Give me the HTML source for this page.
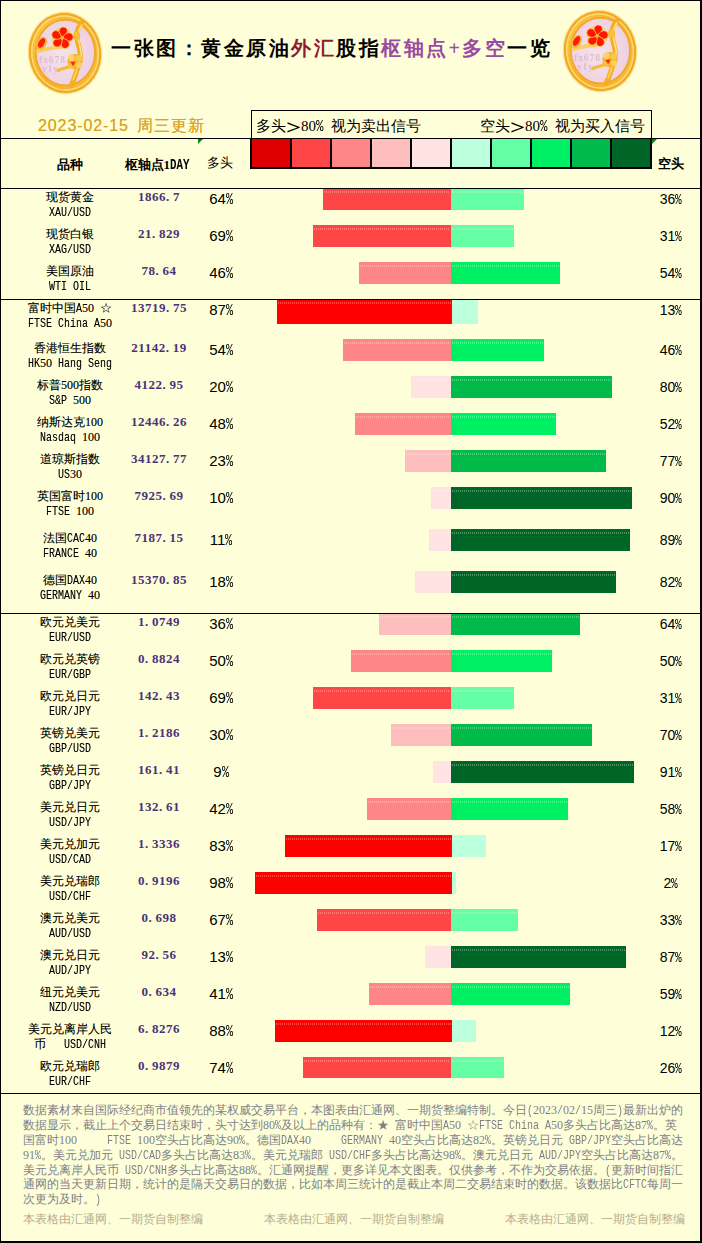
<!DOCTYPE html>
<html lang="zh"><head><meta charset="utf-8"><title>一张图：黄金原油外汇股指枢轴点+多空一览</title>
<style>
html,body{margin:0;padding:0}
body{width:702px;height:1243px;position:relative;overflow:hidden;background:#FEFFD8;font-family:"Liberation Sans",sans-serif;color:#000}
div,span{box-sizing:border-box}
.a{position:absolute}
.hl{position:absolute;left:0;width:702px;height:1px;background:#000;z-index:3}
.t{position:absolute;white-space:pre;line-height:1}
.c{text-align:center}
/* half-width latin boxes */
.l{display:inline-block;white-space:pre;text-align:left;vertical-align:baseline;overflow:visible}
.l i{display:inline-block;font-style:normal;font-family:"Liberation Mono",monospace;font-size:13px;transform:scaleX(.769);transform-origin:0 50%}
.l15 i{font-size:16.25px}
.gt{display:inline-block;transform:scale(1.7,1.55);transform-origin:50% 55%}
.l13 i{font-size:14px}
.nm{text-shadow:0 0 0 rgba(0,0,0,.35);font-size:12px;height:12px;line-height:12px;left:0;width:140px}
.d{font-family:"Liberation Serif",serif}
.pv{font-family:"Liberation Serif",serif;font-weight:bold;font-size:13px;letter-spacing:.5px;color:#4A3278;left:109px;width:100px;height:13px;line-height:13px}
.dot{display:inline-block;width:7px;text-align:left;letter-spacing:0}
.lp{font-size:15px;left:171px;width:100px;height:15px;line-height:15px}
.rp{font-size:14px;left:621px;width:100px;height:14px;line-height:14px}
.pc{display:inline-block;width:7px;text-align:left;white-space:pre}
.pc i{display:inline-block;font-style:normal;font-family:"Liberation Mono",monospace;font-size:16px;transform:scaleX(.74);transform-origin:0 50%}
.rp .pc{width:7px}
.rp .pc i{font-size:15px}
.bar{position:absolute;overflow:hidden}
.bar b{position:absolute;left:1px;right:1px;top:3px;height:2px;background:repeating-linear-gradient(90deg,rgba(255,255,240,.28) 0 1px,transparent 1px 2px)}
.ft{position:absolute;left:23px;width:660px;height:12px;line-height:12px;font-size:12px;color:#7F7F88;white-space:pre;text-align:justify;text-align-last:justify}
.ft .l i{font-size:13px}
.fl{text-align:left;text-align-last:left}
.tan{color:#B8AC90}
</style></head><body>

<div class="a" style="left:0;top:0;width:702px;height:1px;background:#000"></div>
<div class="a" style="left:0;top:0;width:1px;height:1243px;background:#000"></div>
<div class="a" style="left:700px;top:0;width:2px;height:1243px;background:#000"></div>
<div class="a" style="left:0;top:1241px;width:702px;height:2px;background:#000"></div>
<div class="a" style="left:21.5px;top:6.5px;width:86px;height:92px"><svg width="86" height="92" viewBox="-43 -46 86 92">
<defs>
<radialGradient id="gp" cx="45%" cy="50%" r="60%"><stop offset="0" stop-color="#F6E2EA"/><stop offset="1" stop-color="#EECFE0"/></radialGradient>
<linearGradient id="gr" x1="0" y1="0" x2="1" y2="1"><stop offset="0" stop-color="#FDCB4C"/><stop offset=".5" stop-color="#F6AE2A"/><stop offset="1" stop-color="#FBC040"/></linearGradient>
<filter id="bl" x="-10%" y="-10%" width="120%" height="120%"><feGaussianBlur stdDeviation=".6"/></filter>
<path id="pt" d="M0 -.6 C-4.6 -2.8 -5.6 -9.2 -1.2 -10.9 C3.2 -12.1 5.6 -8 3.5 -4.4 C2.5 -2.7 1.2 -1.4 0 -.6Z"/>
</defs>
<g id="logo" filter="url(#bl)">
<ellipse cx="0" cy="0" rx="37.2" ry="41.2" fill="#FCDD84" transform="rotate(-8)"/><ellipse cx="0" cy="0" rx="36" ry="40" fill="url(#gr)" transform="rotate(-8)"/>
<ellipse cx="0" cy="0" rx="33.4" ry="37.2" fill="none" stroke="#FDDA70" stroke-width="1.8" transform="rotate(-8)"/>
<ellipse cx="0" cy="0" rx="35" ry="39" fill="none" stroke="#F2A626" stroke-width="1.8" transform="rotate(-8)"/>
<ellipse cx=".4" cy="-.4" rx="29.6" ry="32.8" fill="url(#gp)" stroke="#F2A828" stroke-width="1.8"/>
<!-- watermark -->
<g font-family="Liberation Serif, serif" font-weight="bold" fill="#DDBDD0" font-size="9.5">
<text x="-26" y="9.5" textLength="26">fx678</text><text x="-23" y="19" textLength="16">yly</text></g>
<!-- branch -->
<path d="M16.5-30 C12-24 10.5-18 12.4-12 C14-6 16.4 0 15 7 C13.6 14 10.5 21 9 26 L6 32.5" fill="none" stroke="#F5AE22" stroke-width="5" stroke-linecap="round"/>
<path d="M16.8-28 C13-22 12.2-17 13.6-12 C15-6 17.2 0 16 6" fill="none" stroke="#FFE27E" stroke-width="1.6" stroke-linecap="round"/>
<path d="M12.5 15 C11.5 19 9.5 23 8 27" fill="none" stroke="#FFD960" stroke-width="1.4" stroke-linecap="round"/>
<ellipse cx="11.5" cy="-17" rx="3.6" ry="4.4" fill="#F8BE3C"/>
<!-- leaf strokes -->
<path d="M-27-2 C-21-2.6 -14-6.4 -5-5.6" fill="none" stroke="#F9D060" stroke-width="3.8" stroke-linecap="round"/>
<path d="M-7 17.6 C-2 14.5 3 15 7.5 12.5" fill="none" stroke="#F6BB34" stroke-width="3.2" stroke-linecap="round"/>
<!-- bud -->
<g transform="translate(-23.4 -9.6) rotate(30)"><ellipse rx="4.8" ry="7" fill="#F8B838"/><ellipse cx="-.3" cy="-.4" rx="2.9" ry="5.3" fill="#FF1E08"/></g>
<!-- main flower -->
<g transform="translate(-2.9 -15)">
<circle r="10.4" fill="#F9CB58" opacity=".75"/>
<g fill="#FF1406" stroke="#FBCB50" stroke-width=".8">
<use href="#pt" transform="rotate(8)"/><use href="#pt" transform="rotate(80)"/><use href="#pt" transform="rotate(152)"/><use href="#pt" transform="rotate(224)"/><use href="#pt" transform="rotate(296)"/>
</g>
<circle r="1.7" fill="#F9B830"/>
</g>
<!-- small gold flower -->
<g transform="translate(10 8.6)">
<circle r="7.6" fill="#F6B42A"/>
<circle cx="-3.6" cy="-3.8" r="3.2" fill="#FBD468"/><circle cx="3.8" cy="-3.2" r="3.2" fill="#FAC848"/><circle cx="4" cy="3.6" r="3" fill="#FBD060"/><circle cx="-3.8" cy="4" r="2.9" fill="#F9C040"/>
<path d="M-4.6 .4 L.4 0 L-1.8 4.6 Z" fill="#FF2408"/>
</g>
</g>
</svg>
</div>
<div class="a" style="left:556.6px;top:4.6px;width:86px;height:92px"><svg width="86" height="92" viewBox="-43 -46 86 92"><use href="#logo"/></svg></div>
<div class="t" style="left:111px;top:38px;font-family:'Liberation Serif',serif;font-weight:bold;font-size:20px;height:20px;line-height:20px;letter-spacing:2.5px">一张图：黄金原油<span style="color:#8E1B2E">外汇</span>股指<span style="color:#9A4CA4">枢轴点+多空</span>一览</div>
<div class="t" style="left:38px;top:118px;font-size:16px;height:16px;line-height:16px;color:#D9A21C;text-shadow:0 0 0 rgba(217,162,28,.7);letter-spacing:1px"><span style="letter-spacing:.9px;margin-right:3px">2023-02-15</span> 周三更新</div>
<div class="hl" style="top:138px"></div>
<div class="hl" style="top:188px"></div>
<div class="hl" style="top:299px"></div>
<div class="hl" style="top:613px"></div>
<div class="hl" style="top:1093px"></div>
<div class="a" style="left:251px;top:110px;width:401px;height:29px;border:1px solid #000;border-bottom:none;background:#FEFFD8"></div>
<div class="t" style="left:256px;top:118px;font-size:15px;height:15px;line-height:15px">多头<span class="gt">＞</span><span class="d">80</span><span class="l l15" style="width:15px"><i>% </i></span>视为卖出信号</div>
<div class="t" style="left:480px;top:118px;font-size:15px;height:15px;line-height:15px">空头<span class="gt">＞</span><span class="d">80</span><span class="l l15" style="width:15px"><i>% </i></span>视为买入信号</div>
<div class="a" style="left:250px;top:138px;width:402px;height:31px;background:#000"></div>
<div class="a" style="left:252px;top:139px;width:38px;height:28px;background:#DD0000"></div>
<div class="a" style="left:292px;top:139px;width:38px;height:28px;background:#FF4646"></div>
<div class="a" style="left:332px;top:139px;width:38px;height:28px;background:#FF8686"></div>
<div class="a" style="left:372px;top:139px;width:38px;height:28px;background:#FFBEBE"></div>
<div class="a" style="left:412px;top:139px;width:38px;height:28px;background:#FFE2E2"></div>
<div class="a" style="left:452px;top:139px;width:38px;height:28px;background:#BCFFDC"></div>
<div class="a" style="left:492px;top:139px;width:38px;height:28px;background:#64FFA4"></div>
<div class="a" style="left:532px;top:139px;width:38px;height:28px;background:#00F064"></div>
<div class="a" style="left:572px;top:139px;width:38px;height:28px;background:#00BB4A"></div>
<div class="a" style="left:612px;top:139px;width:38px;height:28px;background:#006628"></div>
<div class="a" style="left:198px;top:139px;width:0;height:0;border-top:5.5px solid #008A10;border-right:5.5px solid transparent"></div>
<div class="a" style="left:652px;top:139px;width:0;height:0;border-top:5.5px solid #008A10;border-right:5.5px solid transparent"></div>
<div class="t c" style="left:20px;top:158px;width:100px;font-size:13px;height:13px;line-height:13px;font-weight:bold">品种</div>
<div class="t c" style="left:107px;top:158px;width:100px;font-size:13px;height:13px;line-height:13px;font-weight:bold">枢轴点<span class="d">1</span><span class="l l13" style="width:19.5px"><i>DAY</i></span></div>
<div class="t c" style="left:170px;top:156px;width:100px;font-size:13px;height:13px;line-height:13px">多头</div>
<div class="t c" style="left:621px;top:157px;width:100px;font-size:13px;height:13px;line-height:13px;font-weight:bold">空头</div>
<div class="t c nm" style="top:191px">现货黄金</div>
<div class="t c nm" style="top:206px"><span class="l" style="width:42px"><i>XAU/USD</i></span></div>
<div class="t c pv" style="top:190px">1866<span class="dot">.</span>7</div>
<div class="t c lp" style="top:190.5px">64<span class="pc"><i>%</i></span></div>
<div class="t c rp" style="top:192px">36<span class="pc"><i>%</i></span></div>
<div class="bar" style="left:323px;top:188px;width:128px;height:22px;background:#FF4646"><b></b></div>
<div class="bar" style="left:451px;top:188px;width:73px;height:22px;background:#64FFA4"><b></b></div>
<div class="t c nm" style="top:228px">现货白银</div>
<div class="t c nm" style="top:243px"><span class="l" style="width:42px"><i>XAG/USD</i></span></div>
<div class="t c pv" style="top:227px">21<span class="dot">.</span>829</div>
<div class="t c lp" style="top:227.5px">69<span class="pc"><i>%</i></span></div>
<div class="t c rp" style="top:229px">31<span class="pc"><i>%</i></span></div>
<div class="bar" style="left:313px;top:225px;width:138px;height:22px;background:#FF4646"><b></b></div>
<div class="bar" style="left:451px;top:225px;width:63px;height:22px;background:#64FFA4"><b></b></div>
<div class="t c nm" style="top:265px">美国原油</div>
<div class="t c nm" style="top:280px"><span class="l" style="width:42px"><i>WTI OIL</i></span></div>
<div class="t c pv" style="top:264px">78<span class="dot">.</span>64</div>
<div class="t c lp" style="top:264.5px">46<span class="pc"><i>%</i></span></div>
<div class="t c rp" style="top:266px">54<span class="pc"><i>%</i></span></div>
<div class="bar" style="left:359px;top:262px;width:92px;height:22px;background:#FF8686"><b></b></div>
<div class="bar" style="left:451px;top:262px;width:109px;height:22px;background:#00F064"><b></b></div>
<div class="t c nm" style="top:302px">富时中国<span class="l" style="width:6px"><i>A</i></span><span class="d">50</span><span class="l" style="width:6px"> </span>☆</div>
<div class="t c nm" style="top:317px"><span class="l" style="width:72px"><i>FTSE China A</i></span><span class="d">50</span></div>
<div class="t c pv" style="top:301px">13719<span class="dot">.</span>75</div>
<div class="t c lp" style="top:301.5px">87<span class="pc"><i>%</i></span></div>
<div class="t c rp" style="top:303px">13<span class="pc"><i>%</i></span></div>
<div class="bar" style="left:277px;top:299px;width:175px;height:25px;background:#FF0000"><b></b></div>
<div class="bar" style="left:452px;top:299px;width:26px;height:25px;background:#BCFFDC"><b></b></div>
<div class="t c nm" style="top:342px">香港恒生指数</div>
<div class="t c nm" style="top:357px"><span class="l" style="width:12px"><i>HK</i></span><span class="d">50</span><span class="l" style="width:60px"><i> Hang Seng</i></span></div>
<div class="t c pv" style="top:341px">21142<span class="dot">.</span>19</div>
<div class="t c lp" style="top:341.5px">54<span class="pc"><i>%</i></span></div>
<div class="t c rp" style="top:343px">46<span class="pc"><i>%</i></span></div>
<div class="bar" style="left:343px;top:339px;width:108px;height:22px;background:#FF8686"><b></b></div>
<div class="bar" style="left:451px;top:339px;width:93px;height:22px;background:#00F064"><b></b></div>
<div class="t c nm" style="top:379px">标普<span class="d">500</span>指数</div>
<div class="t c nm" style="top:394px"><span class="l" style="width:24px"><i>S&amp;P </i></span><span class="d">500</span></div>
<div class="t c pv" style="top:378px">4122<span class="dot">.</span>95</div>
<div class="t c lp" style="top:378.5px">20<span class="pc"><i>%</i></span></div>
<div class="t c rp" style="top:380px">80<span class="pc"><i>%</i></span></div>
<div class="bar" style="left:411px;top:376px;width:40px;height:22px;background:#FFE2E2"><b></b></div>
<div class="bar" style="left:451px;top:376px;width:161px;height:22px;background:#00BB4A"><b></b></div>
<div class="t c nm" style="top:416px">纳斯达克<span class="d">100</span></div>
<div class="t c nm" style="top:431px"><span class="l" style="width:42px"><i>Nasdaq </i></span><span class="d">100</span></div>
<div class="t c pv" style="top:415px">12446<span class="dot">.</span>26</div>
<div class="t c lp" style="top:415.5px">48<span class="pc"><i>%</i></span></div>
<div class="t c rp" style="top:417px">52<span class="pc"><i>%</i></span></div>
<div class="bar" style="left:355px;top:413px;width:96px;height:22px;background:#FF8686"><b></b></div>
<div class="bar" style="left:451px;top:413px;width:105px;height:22px;background:#00F064"><b></b></div>
<div class="t c nm" style="top:453px">道琼斯指数</div>
<div class="t c nm" style="top:468px"><span class="l" style="width:12px"><i>US</i></span><span class="d">30</span></div>
<div class="t c pv" style="top:452px">34127<span class="dot">.</span>77</div>
<div class="t c lp" style="top:452.5px">23<span class="pc"><i>%</i></span></div>
<div class="t c rp" style="top:454px">77<span class="pc"><i>%</i></span></div>
<div class="bar" style="left:405px;top:450px;width:46px;height:22px;background:#FFBEBE"><b></b></div>
<div class="bar" style="left:451px;top:450px;width:155px;height:22px;background:#00BB4A"><b></b></div>
<div class="t c nm" style="top:490px">英国富时<span class="d">100</span></div>
<div class="t c nm" style="top:505px"><span class="l" style="width:30px"><i>FTSE </i></span><span class="d">100</span></div>
<div class="t c pv" style="top:489px">7925<span class="dot">.</span>69</div>
<div class="t c lp" style="top:489.5px">10<span class="pc"><i>%</i></span></div>
<div class="t c rp" style="top:491px">90<span class="pc"><i>%</i></span></div>
<div class="bar" style="left:431px;top:487px;width:20px;height:22px;background:#FFE2E2"><b></b></div>
<div class="bar" style="left:451px;top:487px;width:181px;height:22px;background:#006628"><b></b></div>
<div class="t c nm" style="top:532px">法国<span class="l" style="width:18px"><i>CAC</i></span><span class="d">40</span></div>
<div class="t c nm" style="top:547px"><span class="l" style="width:42px"><i>FRANCE </i></span><span class="d">40</span></div>
<div class="t c pv" style="top:531px">7187<span class="dot">.</span>15</div>
<div class="t c lp" style="top:531.5px">11<span class="pc"><i>%</i></span></div>
<div class="t c rp" style="top:533px">89<span class="pc"><i>%</i></span></div>
<div class="bar" style="left:429px;top:529px;width:22px;height:22px;background:#FFE2E2"><b></b></div>
<div class="bar" style="left:451px;top:529px;width:179px;height:22px;background:#006628"><b></b></div>
<div class="t c nm" style="top:574px">德国<span class="l" style="width:18px"><i>DAX</i></span><span class="d">40</span></div>
<div class="t c nm" style="top:589px"><span class="l" style="width:48px"><i>GERMANY </i></span><span class="d">40</span></div>
<div class="t c pv" style="top:573px">15370<span class="dot">.</span>85</div>
<div class="t c lp" style="top:573.5px">18<span class="pc"><i>%</i></span></div>
<div class="t c rp" style="top:575px">82<span class="pc"><i>%</i></span></div>
<div class="bar" style="left:415px;top:571px;width:36px;height:22px;background:#FFE2E2"><b></b></div>
<div class="bar" style="left:451px;top:571px;width:165px;height:22px;background:#006628"><b></b></div>
<div class="t c nm" style="top:616px">欧元兑美元</div>
<div class="t c nm" style="top:631px"><span class="l" style="width:42px"><i>EUR/USD</i></span></div>
<div class="t c pv" style="top:615px">1<span class="dot">.</span>0749</div>
<div class="t c lp" style="top:615.5px">36<span class="pc"><i>%</i></span></div>
<div class="t c rp" style="top:617px">64<span class="pc"><i>%</i></span></div>
<div class="bar" style="left:379px;top:613px;width:72px;height:22px;background:#FFBEBE"><b></b></div>
<div class="bar" style="left:451px;top:613px;width:129px;height:22px;background:#00BB4A"><b></b></div>
<div class="t c nm" style="top:653px">欧元兑英镑</div>
<div class="t c nm" style="top:668px"><span class="l" style="width:42px"><i>EUR/GBP</i></span></div>
<div class="t c pv" style="top:652px">0<span class="dot">.</span>8824</div>
<div class="t c lp" style="top:652.5px">50<span class="pc"><i>%</i></span></div>
<div class="t c rp" style="top:654px">50<span class="pc"><i>%</i></span></div>
<div class="bar" style="left:351px;top:650px;width:100px;height:22px;background:#FF8686"><b></b></div>
<div class="bar" style="left:451px;top:650px;width:101px;height:22px;background:#00F064"><b></b></div>
<div class="t c nm" style="top:690px">欧元兑日元</div>
<div class="t c nm" style="top:705px"><span class="l" style="width:42px"><i>EUR/JPY</i></span></div>
<div class="t c pv" style="top:689px">142<span class="dot">.</span>43</div>
<div class="t c lp" style="top:689.5px">69<span class="pc"><i>%</i></span></div>
<div class="t c rp" style="top:691px">31<span class="pc"><i>%</i></span></div>
<div class="bar" style="left:313px;top:687px;width:138px;height:22px;background:#FF4646"><b></b></div>
<div class="bar" style="left:451px;top:687px;width:63px;height:22px;background:#64FFA4"><b></b></div>
<div class="t c nm" style="top:727px">英镑兑美元</div>
<div class="t c nm" style="top:742px"><span class="l" style="width:42px"><i>GBP/USD</i></span></div>
<div class="t c pv" style="top:726px">1<span class="dot">.</span>2186</div>
<div class="t c lp" style="top:726.5px">30<span class="pc"><i>%</i></span></div>
<div class="t c rp" style="top:728px">70<span class="pc"><i>%</i></span></div>
<div class="bar" style="left:391px;top:724px;width:60px;height:22px;background:#FFBEBE"><b></b></div>
<div class="bar" style="left:451px;top:724px;width:141px;height:22px;background:#00BB4A"><b></b></div>
<div class="t c nm" style="top:764px">英镑兑日元</div>
<div class="t c nm" style="top:779px"><span class="l" style="width:42px"><i>GBP/JPY</i></span></div>
<div class="t c pv" style="top:763px">161<span class="dot">.</span>41</div>
<div class="t c lp" style="top:763.5px">9<span class="pc"><i>%</i></span></div>
<div class="t c rp" style="top:765px">91<span class="pc"><i>%</i></span></div>
<div class="bar" style="left:433px;top:761px;width:18px;height:22px;background:#FFE2E2"><b></b></div>
<div class="bar" style="left:451px;top:761px;width:183px;height:22px;background:#006628"><b></b></div>
<div class="t c nm" style="top:801px">美元兑日元</div>
<div class="t c nm" style="top:816px"><span class="l" style="width:42px"><i>USD/JPY</i></span></div>
<div class="t c pv" style="top:800px">132<span class="dot">.</span>61</div>
<div class="t c lp" style="top:800.5px">42<span class="pc"><i>%</i></span></div>
<div class="t c rp" style="top:802px">58<span class="pc"><i>%</i></span></div>
<div class="bar" style="left:367px;top:798px;width:84px;height:22px;background:#FF8686"><b></b></div>
<div class="bar" style="left:451px;top:798px;width:117px;height:22px;background:#00F064"><b></b></div>
<div class="t c nm" style="top:838px">美元兑加元</div>
<div class="t c nm" style="top:853px"><span class="l" style="width:42px"><i>USD/CAD</i></span></div>
<div class="t c pv" style="top:837px">1<span class="dot">.</span>3336</div>
<div class="t c lp" style="top:837.5px">83<span class="pc"><i>%</i></span></div>
<div class="t c rp" style="top:839px">17<span class="pc"><i>%</i></span></div>
<div class="bar" style="left:285px;top:835px;width:167px;height:22px;background:#FF0000"><b></b></div>
<div class="bar" style="left:452px;top:835px;width:34px;height:22px;background:#BCFFDC"><b></b></div>
<div class="t c nm" style="top:875px">美元兑瑞郎</div>
<div class="t c nm" style="top:890px"><span class="l" style="width:42px"><i>USD/CHF</i></span></div>
<div class="t c pv" style="top:874px">0<span class="dot">.</span>9196</div>
<div class="t c lp" style="top:874.5px">98<span class="pc"><i>%</i></span></div>
<div class="t c rp" style="top:876px">2<span class="pc"><i>%</i></span></div>
<div class="bar" style="left:255px;top:872px;width:197px;height:22px;background:#FF0000"><b></b></div>
<div class="bar" style="left:452px;top:872px;width:4px;height:22px;background:#BCFFDC"><b></b></div>
<div class="t c nm" style="top:912px">澳元兑美元</div>
<div class="t c nm" style="top:927px"><span class="l" style="width:42px"><i>AUD/USD</i></span></div>
<div class="t c pv" style="top:911px">0<span class="dot">.</span>698</div>
<div class="t c lp" style="top:911.5px">67<span class="pc"><i>%</i></span></div>
<div class="t c rp" style="top:913px">33<span class="pc"><i>%</i></span></div>
<div class="bar" style="left:317px;top:909px;width:134px;height:22px;background:#FF4646"><b></b></div>
<div class="bar" style="left:451px;top:909px;width:67px;height:22px;background:#64FFA4"><b></b></div>
<div class="t c nm" style="top:949px">澳元兑日元</div>
<div class="t c nm" style="top:964px"><span class="l" style="width:42px"><i>AUD/JPY</i></span></div>
<div class="t c pv" style="top:948px">92<span class="dot">.</span>56</div>
<div class="t c lp" style="top:948.5px">13<span class="pc"><i>%</i></span></div>
<div class="t c rp" style="top:950px">87<span class="pc"><i>%</i></span></div>
<div class="bar" style="left:425px;top:946px;width:26px;height:22px;background:#FFE2E2"><b></b></div>
<div class="bar" style="left:451px;top:946px;width:175px;height:22px;background:#006628"><b></b></div>
<div class="t c nm" style="top:986px">纽元兑美元</div>
<div class="t c nm" style="top:1001px"><span class="l" style="width:42px"><i>NZD/USD</i></span></div>
<div class="t c pv" style="top:985px">0<span class="dot">.</span>634</div>
<div class="t c lp" style="top:985.5px">41<span class="pc"><i>%</i></span></div>
<div class="t c rp" style="top:987px">59<span class="pc"><i>%</i></span></div>
<div class="bar" style="left:369px;top:983px;width:82px;height:22px;background:#FF8686"><b></b></div>
<div class="bar" style="left:451px;top:983px;width:119px;height:22px;background:#00F064"><b></b></div>
<div class="t c nm" style="top:1023px">美元兑离岸人民</div>
<div class="t c nm" style="top:1038px">币<span class="l" style="width:60px"><i>   USD/CNH</i></span></div>
<div class="t c pv" style="top:1022px">6<span class="dot">.</span>8276</div>
<div class="t c lp" style="top:1022.5px">88<span class="pc"><i>%</i></span></div>
<div class="t c rp" style="top:1024px">12<span class="pc"><i>%</i></span></div>
<div class="bar" style="left:275px;top:1020px;width:177px;height:22px;background:#FF0000"><b></b></div>
<div class="bar" style="left:452px;top:1020px;width:24px;height:22px;background:#BCFFDC"><b></b></div>
<div class="t c nm" style="top:1060px">欧元兑瑞郎</div>
<div class="t c nm" style="top:1075px"><span class="l" style="width:42px"><i>EUR/CHF</i></span></div>
<div class="t c pv" style="top:1059px">0<span class="dot">.</span>9879</div>
<div class="t c lp" style="top:1059.5px">74<span class="pc"><i>%</i></span></div>
<div class="t c rp" style="top:1061px">26<span class="pc"><i>%</i></span></div>
<div class="bar" style="left:303px;top:1057px;width:148px;height:21px;background:#FF4646"><b></b></div>
<div class="bar" style="left:451px;top:1057px;width:53px;height:21px;background:#64FFA4"><b></b></div>
<div class="ft" style="top:1104px">数据素材来自国际经纪商市值领先的某权威交易平台，本图表由汇通网、一期货整编特制。今日<span class="l" style="width:6px"><i>(</i></span><span class="d">2023</span><span class="l" style="width:6px"><i>/</i></span><span class="d">02</span><span class="l" style="width:6px"><i>/</i></span><span class="d">15</span>周三<span class="l" style="width:6px"><i>)</i></span>最新出炉的</div>
<div class="ft fl" style="top:1119px">数据显示，截止上个交易日结束时，头寸达到<span class="d">80</span><span class="l" style="width:6px"><i>%</i></span>及以上的品种有：★<span class="l" style="width:6px"> </span>富时中国<span class="l" style="width:6px"><i>A</i></span><span class="d">50</span><span class="l" style="width:6px"> </span>☆<span class="l" style="width:72px"><i>FTSE China A</i></span><span class="d">50</span>多头占比高达<span class="d">87</span><span class="l" style="width:6px"><i>%</i></span>。英</div>
<div class="ft fl" style="top:1134px">国富时<span class="d">100</span><span class="l" style="width:60px"><i>     FTSE </i></span><span class="d">100</span>空头占比高达<span class="d">90</span><span class="l" style="width:6px"><i>%</i></span>。德国<span class="l" style="width:18px"><i>DAX</i></span><span class="d">40</span><span class="l" style="width:78px"><i>     GERMANY </i></span><span class="d">40</span>空头占比高达<span class="d">82</span><span class="l" style="width:6px"><i>%</i></span>。英镑兑日元<span class="l" style="width:48px"><i> GBP/JPY</i></span>空头占比高达</div>
<div class="ft fl" style="top:1149px"><span class="d">91</span><span class="l" style="width:6px"><i>%</i></span>。美元兑加元<span class="l" style="width:48px"><i> USD/CAD</i></span>多头占比高达<span class="d">83</span><span class="l" style="width:6px"><i>%</i></span>。美元兑瑞郎<span class="l" style="width:48px"><i> USD/CHF</i></span>多头占比高达<span class="d">98</span><span class="l" style="width:6px"><i>%</i></span>。澳元兑日元<span class="l" style="width:48px"><i> AUD/JPY</i></span>空头占比高达<span class="d">87</span><span class="l" style="width:6px"><i>%</i></span>。</div>
<div class="ft" style="top:1164px">美元兑离岸人民币<span class="l" style="width:48px"><i> USD/CNH</i></span>多头占比高达<span class="d">88</span><span class="l" style="width:6px"><i>%</i></span>。汇通网提醒，更多详见本文图表。仅供参考，不作为交易依据。<span class="l" style="width:6px"><i>(</i></span>更新时间指汇</div>
<div class="ft" style="top:1178px">通网的当天更新日期，统计的是隔天交易日的数据，比如本周三统计的是截止本周二交易结束时的数据。该数据比<span class="l" style="width:24px"><i>CFTC</i></span>每周一</div>
<div class="ft fl" style="top:1193px">次更为及时。<span class="l" style="width:6px"><i>)</i></span></div>
<div class="ft fl tan" style="left:23px;top:1213px;width:190px">本表格由汇通网、一期货自制整编</div>
<div class="ft fl tan" style="left:264px;top:1213px;width:190px">本表格由汇通网、一期货自制整编</div>
<div class="ft fl tan" style="left:505px;top:1213px;width:190px">本表格由汇通网、一期货自制整编</div>
</body></html>
